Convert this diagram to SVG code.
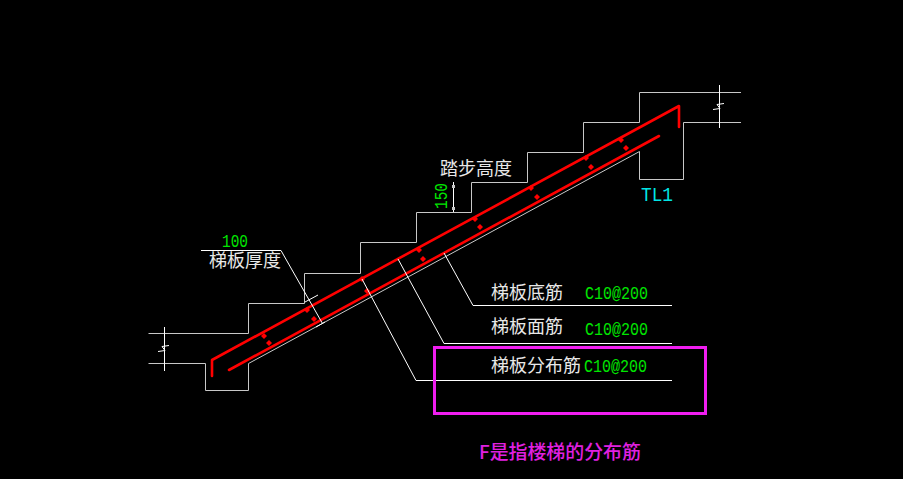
<svg xmlns="http://www.w3.org/2000/svg" width="903" height="479" viewBox="0 0 903 479">
<defs>
<style>
.o{fill:none;stroke:#c8c8c8;stroke-width:1}
.l{fill:none;stroke:#ffffff;stroke-width:1}
.r{fill:none;stroke:#ff0000;stroke-width:2.600;stroke-linecap:round;stroke-linejoin:round}
.t{font-family:"Noto Sans CJK SC","Liberation Sans",sans-serif;font-size:18px;fill:#e8e8e8}
.g{font-family:"Liberation Mono",monospace;font-size:18px;fill:#00e600}
.c{font-family:"Liberation Mono",monospace;font-size:21px;fill:#00e5e5}
</style>
<path id="d" d="M-3 0L0 -3L3 0L0 3Z" fill="#ff0000"/>
</defs>
<rect width="903" height="479" fill="#000000"/>
<g id="stair">
<path class="o" d="M148.500 333.500H248.500V303.500H304.500V273.500H360.500V242.500H416.500V212.500H471.500V182.500H527.500V152.500H583.500V122.500H639.500V92.500H741"/>
<path class="o" d="M148.500 363.500H205.500V390.500H248.500V363.500L639.500 151.500V179.500H683.500V122.500H741"/>
<path class="l" d="M164.500 327V371M158 351.500L165 350.500L162 346.500L169 345.500"/>
<path class="l" d="M719.500 85V128M713 109.500L720 108.500L717 104.500L724 103.500"/>
</g>
<g id="rebar">
<path class="r" d="M212 376V360L679 106V127"/>
<path class="r" d="M229 370L659 136"/>
<use href="#d" x="264" y="336"/><use href="#d" x="269" y="343"/>
<use href="#d" x="307" y="310"/><use href="#d" x="314" y="319"/>
<use href="#d" x="362" y="279"/><use href="#d" x="367" y="291"/>
<use href="#d" x="419" y="250"/><use href="#d" x="423" y="259"/>
<use href="#d" x="475" y="219"/><use href="#d" x="480" y="227"/>
<use href="#d" x="531" y="188"/><use href="#d" x="537" y="197"/>
<use href="#d" x="586" y="158"/><use href="#d" x="591" y="167"/>
<use href="#d" x="621" y="140"/><use href="#d" x="626" y="148"/>
</g>
<g id="connectors">
<path class="l" d="M201 250.500H281L322.500 323.500"/>
<path class="l" d="M305 302L318 295M316 327L325 322"/>
<path class="l" d="M444 253L473 305.500H672"/>
<path class="l" d="M398 259L444 343.500H672"/>
<path class="l" d="M362 279L416 380.500H672"/>
<path class="l" d="M453.500 182V212"/>
<rect x="452" y="185" width="3" height="3" fill="#c8c8c8"/>
<rect x="452" y="207" width="3" height="3" fill="#c8c8c8"/>
</g>
<g id="labels">
<text class="g" x="222" y="247" textLength="26" lengthAdjust="spacingAndGlyphs">100</text>
<text class="t" x="209" y="267">梯板厚度</text>
<text class="t" x="440" y="175">踏步高度</text>
<text class="g" transform="translate(447 209) rotate(-90)" textLength="26" lengthAdjust="spacingAndGlyphs">150</text>
<text class="c" x="641" y="201" textLength="32" lengthAdjust="spacingAndGlyphs">TL1</text>
<text class="t" x="491" y="299">梯板底筋</text>
<text class="g" x="585" y="299" textLength="63" lengthAdjust="spacingAndGlyphs">C10@200</text>
<text class="t" x="491" y="333">梯板面筋</text>
<text class="g" x="585" y="335" textLength="63" lengthAdjust="spacingAndGlyphs">C10@200</text>
<text class="t" x="491" y="372">梯板分布筋</text>
<text class="g" x="584" y="372" textLength="63" lengthAdjust="spacingAndGlyphs">C10@200</text>
</g>
<g id="highlight">
<rect x="434.500" y="347.500" width="271" height="66" fill="none" stroke="#f01ef0" stroke-width="3"/>
<text x="479" y="459" font-family="&quot;Noto Sans CJK SC&quot;,sans-serif" font-size="18.900" font-weight="500" fill="#e020e0">F是指楼梯的分布筋</text>
</g>
</svg>
